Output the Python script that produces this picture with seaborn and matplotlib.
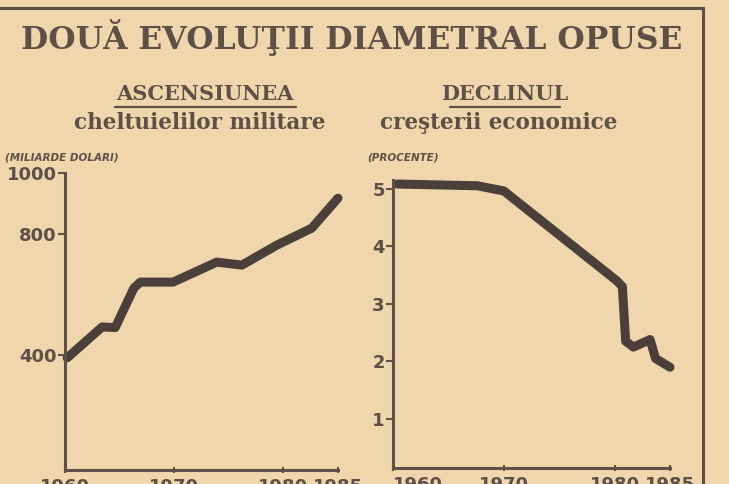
import matplotlib
matplotlib.use("Agg")
import matplotlib.pyplot as plt
import seaborn as sns
import pandas as pd
from matplotlib.lines import Line2D
from matplotlib.patches import Rectangle

# ~~~~~~~~~~~~~~~~~~  DATA  ~~~~~~~~~~~~~~~~~~
mil_years = [1960.2, 1963.4, 1964.6, 1966.3, 1966.9, 1969.9, 1973.9, 1976.2, 1979.4, 1982.6, 1985.0]
mil_values = [390, 492, 490, 620, 640, 640, 706, 696, 762, 818, 917]

eco_years = [1960.4, 1967.6, 1970.0, 1980.2, 1980.7, 1981.0, 1981.7, 1983.2, 1983.7, 1985.0]
eco_values = [5.08, 5.05, 4.96, 3.40, 3.30, 2.35, 2.25, 2.38, 2.05, 1.90]

year_ticks = [1960, 1970, 1980, 1985]
mil_ticks = [400, 800, 1000]
eco_ticks = [1, 2, 3, 4, 5]

df_mil = pd.DataFrame({"an": mil_years, "valoare": mil_values})
df_eco = pd.DataFrame({"an": eco_years, "valoare": eco_values})

# ~~~~~~~~~~~~~~~~~~  STYLE  ~~~~~~~~~~~~~~~~~~
paper = "#efd6ac"
ink = "#5e5046"
line_ink = "#4a3f39"

sns.set_style("ticks", {"axes.facecolor": paper, "figure.facecolor": paper,
                        "axes.edgecolor": ink, "xtick.color": ink, "ytick.color": ink,
                        "text.color": ink})

W, H = 729, 484
fig = plt.figure(figsize=(W / 100, H / 100), dpi=100)


def fx(px):
    return px / W


def fy(py):
    return 1 - py / H


tick_font = dict(family="DejaVu Sans", weight="heavy", size=13)


def style_axes(ax):
    sns.despine(ax=ax)
    for s in ["left", "bottom"]:
        ax.spines[s].set_linewidth(2.2)
        ax.spines[s].set_color(ink)
    ax.tick_params(axis="y", length=5, width=1.5, pad=1, colors=ink)
    ax.tick_params(axis="x", length=4, width=1.5, direction="inout", pad=4, colors=ink)
    ax.set_xlabel("")
    ax.set_ylabel("")
    ax.set_xticks(year_ticks)
    ax.set_xticklabels([str(y) for y in year_ticks], fontdict=tick_font)
    ax.set_xlim(1960, 1985)


# ~~~~~~~~~~~~~~~~~~  LEFT: MILITARY SPENDING  ~~~~~~~~~~~~~~~~~~
ax1 = fig.add_axes([fx(65), fy(470), fx(338 - 65), (470 - 173) / H])
sns.lineplot(data=df_mil, x="an", y="valoare", ax=ax1, color=line_ink,
             linewidth=6.5, solid_joinstyle="round", solid_capstyle="round", clip_on=False)
style_axes(ax1)
ax1.set_ylim(20, 1000)
ax1.set_yticks(mil_ticks)
ax1.set_yticklabels([str(v) for v in mil_ticks], fontdict=tick_font)

# ~~~~~~~~~~~~~~~~~~  RIGHT: ECONOMIC GROWTH  ~~~~~~~~~~~~~~~~~~
ax2 = fig.add_axes([fx(393), fy(468), fx(670 - 393), (468 - 180) / H])
sns.lineplot(data=df_eco, x="an", y="valoare", ax=ax2, color=line_ink,
             linewidth=6.5, solid_joinstyle="round", solid_capstyle="round", clip_on=False)
style_axes(ax2)
ax2.set_ylim(0.15, 5.15)
ax2.set_yticks(eco_ticks)
ax2.set_yticklabels([str(v) for v in eco_ticks], fontdict=tick_font)
ax2.get_xticklabels()[0].set_horizontalalignment("left")

# ~~~~~~~~~~~~~~~~~~  TEXTS  ~~~~~~~~~~~~~~~~~~
fig.text(fx(352), fy(37), "DOUĂ EVOLUŢII DIAMETRAL OPUSE", ha="center", va="center",
         family="DejaVu Serif", weight="bold", size=22.6, color=ink)

sub_font = dict(family="DejaVu Serif", weight="bold", color=ink)
fig.text(fx(205), fy(94), "ASCENSIUNEA", ha="center", va="center", size=15, **sub_font)
fig.text(fx(200), fy(123), "cheltuielilor militare", ha="center", va="center", size=15.5, **sub_font)
fig.text(fx(505), fy(94), "DECLINUL", ha="center", va="center", size=15, **sub_font)
fig.text(fx(499), fy(123), "creşterii economice", ha="center", va="center", size=15.5, **sub_font)

# underlines
fig.add_artist(Line2D([fx(115), fx(296)], [fy(107), fy(107)], color=ink, lw=1.6))
fig.add_artist(Line2D([fx(450), fx(560)], [fy(107), fy(107)], color=ink, lw=1.6))

unit_font = dict(family="DejaVu Sans", weight="bold", style="italic", size=7.5, color=ink)
fig.text(fx(5), fy(158), "(MILIARDE DOLARI)", ha="left", va="center", **unit_font)
fig.text(fx(367), fy(157), "(PROCENTE)", ha="left", va="center", **unit_font)

# frame
fig.add_artist(Rectangle((fx(-10), fy(500)), fx(713), (500 - 8) / H, fill=False,
                         edgecolor=ink, lw=2.2, transform=fig.transFigure))

plt.savefig("out.png", dpi=100, facecolor=paper)
